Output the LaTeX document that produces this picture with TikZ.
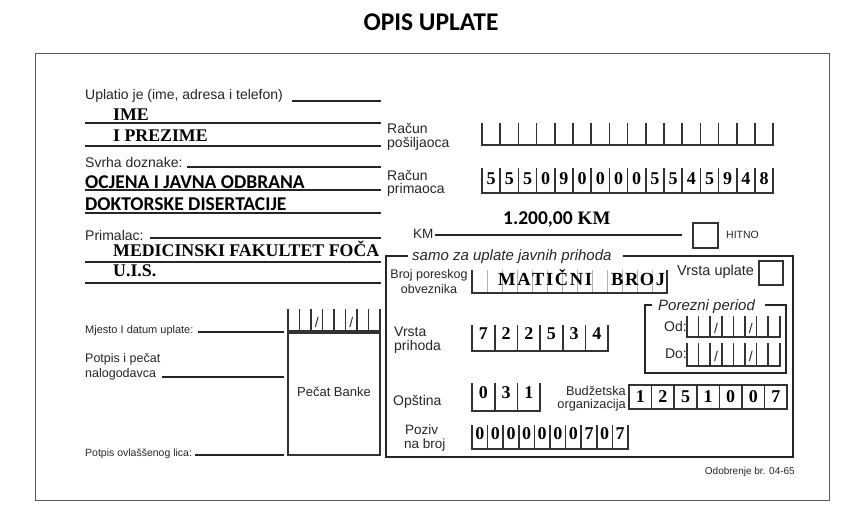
\documentclass[tikz,border=0pt]{standalone}
\usepackage{fontspec}
\setmainfont{Liberation Sans}
\newfontfamily\timesf{Liberation Serif}
\newfontfamily\carl{Carlito}
\newcommand{\fsz}[1]{\fontsize{#1}{#1}\selectfont}
% comb: x0, ytop, ybot, cell width, n
\newcommand{\mycomb}[5]{%
  \foreach \ci in {0,...,#5}{\draw[cline] ({#1+\ci*#4},#2) -- ({#1+\ci*#4},#3);}
  \draw[cline] ({#1-0.8},#3) -- ({#1+#5*#4+0.8},#3);}
% digits: x0, baseline, cell width, list, name prefix
\newcommand{\mydigits}[5]{%
  \foreach \dd [count=\k] in {#4}{\node[dig, name=#5\k] at ({#1+(\k-0.5)*#3},#2) {\dd};}}
% slashes in cells 3 and 6: x0, baseline, cell width, name prefix
\newcommand{\myslash}[4]{%
  \node[slash, name=#4a] at ({#1+2.5*#3},#2) {/};
  \node[slash, name=#4b] at ({#1+5.5*#3},#2) {/};}
\tikzset{
  lbl/.style={inner sep=0pt, anchor=base west, text=black!85, font=\fsz{14}},
  val/.style={inner sep=0pt, anchor=base west, text=black, font=\timesf\bfseries\fsz{17.8}},
  cval/.style={inner sep=0pt, anchor=base west, text=black, font=\carl\bfseries\fsz{19.5}},
  dig/.style={inner sep=0pt, anchor=base, text=black, font=\timesf\bfseries\fsz{18}},
  slash/.style={inner sep=0pt, anchor=base, text=black!85, font=\fsz{14}},
  fline/.style={line width=1.8pt, draw=black!85},
  cline/.style={line width=1.7pt, draw=black!80},
  thinbox/.style={line width=1.3pt, draw=black!80},
}
\begin{document}
\begin{tikzpicture}[x=1pt,y=-1pt]
\useasboundingbox (0,0) rectangle (863,507);
% title and frame
\node[inner sep=0pt, anchor=base, font=\carl\bfseries\fsz{25.5}] (title) at (431,30) {OPIS UPLATE};
\draw[line width=0.8pt, draw=black!65] (35,53) rectangle (829,500);

% ---------- left column ----------
\node[lbl] (uplatio) at (85,99) {Uplatio je (ime, adresa i telefon)};
\draw[fline] (292,101) -- (381,101);
\node[val] (ime) at (113,120) {IME};
\draw[fline] (85,123) -- (381,123);
\node[val] (prezime) at (113,141) {I PREZIME};
\draw[fline] (85,146) -- (381,146);
\node[lbl] (svrha) at (85,167) {Svrha doznake:};
\draw[fline] (187,167) -- (381,167);
\node[cval] (ocjena) at (85,188) {OCJENA I JAVNA ODBRANA};
\draw[fline] (85,190) -- (381,190);
\node[cval] (doktorske) at (85,210) {DOKTORSKE DISERTACIJE};
\draw[fline] (85,213) -- (381,213);
\node[lbl] (primalac) at (85,240) {Primalac:};
\draw[fline] (150,238) -- (381,238);
\node[val] (medicinski) at (113,256) {MEDICINSKI FAKULTET FOČA};
\draw[fline] (85,262) -- (381,262);
\node[val] (uis) at (113,276) {U.I.S.};
\draw[fline] (85,283) -- (381,283);

\node[lbl, font=\fsz{11}] (mjesto) at (85,333) {Mjesto I datum uplate:};
\draw[fline] (198,332) -- (284,332);
\mycomb{288}{309}{331}{11.5}{8}
\myslash{288}{327}{11.5}{ds}
\draw[line width=1.8pt, draw=black!80] (288,333) rectangle (380,455);
\node[inner sep=0pt, text=black!85, font=\fsz{13}] (pecat) at (334,392) {Pečat Banke};
\node[lbl, font=\fsz{12.5}] (potpis1) at (85,362) {Potpis i pečat};
\node[lbl, font=\fsz{12.5}] (potpis2) at (85,377) {nalogodavca};
\draw[fline] (162,377) -- (284,377);
\node[lbl, font=\fsz{10.5}] (ovlas) at (85,456) {Potpis ovlaššenog lica:};
\draw[fline] (195,455) -- (284,455);

% ---------- right column top ----------
\node[lbl] (rp1) at (387,133) {Račun};
\node[lbl] (rp2) at (387,147) {pošiljaoca};
\mycomb{482}{123}{145}{18.2}{16}
\node[lbl] (rpr1) at (387,180) {Račun};
\node[lbl] (rpr2) at (387,193) {primaoca};
\mycomb{482}{168}{193}{18.2}{16}
\mydigits{482}{184}{18.2}{5,5,5,0,9,0,0,0,0,5,5,4,5,9,4,8}{ra}
\node[lbl, font=\fsz{13.5}] (km) at (413,238) {KM};
\draw[line width=1.9pt, draw=black!85] (435,235) -- (682,235);
\node[inner sep=0pt, anchor=base west] (iznos) at (503,224) {{\carl\bfseries\fsz{19.5}1.200,00}\kern5pt{\timesf\bfseries\fsz{19}KM}};
\draw[thinbox] (693,223) rectangle (718,248);
\node[lbl, font=\fsz{10.5}] (hitno) at (726,238) {HITNO};

% ---------- javni prihodi box ----------
\draw[line width=2.4pt, draw=black!85] (408,256) -- (386,256) -- (386,457) -- (793,457) -- (793,256) -- (623,256);
\node[lbl, font=\itshape\fsz{15}] (samo) at (412,260) {samo za uplate javnih prihoda};

\node[inner sep=0pt, anchor=base, text=black!85, font=\fsz{12.5}] (broj1) at (429,278) {Broj poreskog};
\node[inner sep=0pt, anchor=base, text=black!85, font=\fsz{12.5}] (broj2) at (429,293) {obveznika};
\foreach \ci in {1,...,12}{\draw[line width=0.9pt, draw=black!30] ({472+\ci*15},270) -- ({472+\ci*15},293);}
\draw[cline] (472,270) -- (472,293) -- (667,293) -- (667,270);
\node[val, font=\timesf\bfseries\fsz{18.5}] (maticni) at (498,285)
  {M\kern1.6pt A\kern1.6pt T\kern1.6pt I\kern1.6pt Č\kern1.6pt N\kern1.6pt I\kern19pt B\kern1.6pt R\kern1.6pt O\kern1.6pt J};

\node[lbl, font=\fsz{14.5}] (vrstaupl) at (677,275) {Vrsta uplate};
\draw[thinbox] (759,261) rectangle (783,285);

\draw[line width=1.7pt, draw=black!85] (652,305) -- (645,305) -- (645,373) -- (786,373) -- (786,305) -- (765,305);
\node[lbl, font=\itshape\fsz{15}] (porezni) at (658,310) {Porezni period};
\node[lbl, anchor=base east] (od) at (687,331) {Od:};
\mycomb{687}{316}{337}{11.6}{8}
\myslash{687}{333}{11.6}{os}
\node[lbl, anchor=base east] (do) at (687,358) {Do:};
\mycomb{687}{343}{366}{11.6}{8}
\myslash{687}{361}{11.6}{dsl}

\node[lbl] (vp1) at (394,336) {Vrsta};
\node[lbl] (vp2) at (394,350) {prihoda};
\mycomb{472}{325}{351}{22.7}{6}
\mydigits{472}{339}{22.7}{7,2,2,5,3,4}{vp}

\node[lbl] (opstina) at (393,405) {Opština};
\mycomb{472}{383}{411}{22.7}{3}
\mydigits{472}{398}{22.7}{0,3,1}{op}

\node[lbl, anchor=base east, font=\fsz{12.8}] (bud1) at (626,395) {Budžetska};
\node[lbl, anchor=base east, font=\fsz{12.8}] (bud2) at (626,408) {organizacija};
\mycomb{629}{385}{409}{22.6}{7}
\draw[cline] (628.2,385) -- (788,385);
\mydigits{629}{402}{22.6}{1,2,5,1,0,0,7}{bo}

\node[lbl, font=\fsz{13.5}] (poziv1) at (405,434) {Poziv};
\node[lbl, font=\fsz{13.5}] (poziv2) at (404,448) {na broj};
\mycomb{472}{425}{449}{15.6}{10}
\mydigits{472}{439}{15.6}{0,0,0,0,0,0,0,7,0,7}{pz}

\node[lbl, anchor=base east, font=\fsz{10}] (odobrenje) at (795,474) {Odobrenje br. 04-65};
\end{tikzpicture}
\end{document}
